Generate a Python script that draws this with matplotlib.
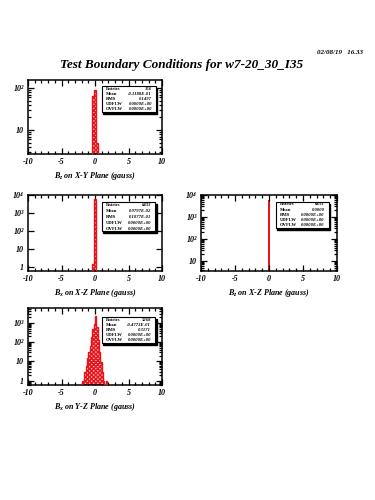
import matplotlib.pyplot as plt
import numpy as np
from matplotlib.patches import Rectangle
from matplotlib.ticker import FixedLocator, MultipleLocator, LogLocator, NullFormatter

RED = "#e8141b"
SERIF = ["Liberation Serif", "DejaVu Serif"]

title = "Test Boundary Conditions for w7-20_30_I35"
stamp = "02/08/19   16.33"

# histogram contents (bin edges in gauss, counts per bin)
xy_edges = [-0.4, -0.2, 0.0, 0.2, 0.4]
xy_counts = [65, 90, 90, 5]

xz_bx_edges = [-0.4, -0.2, 0.0, 0.2, 0.4]
xz_bx_counts = [1.5, 6000, 6000, 0]

xz_bz_edges = [-0.1, 0.1]
xz_bz_counts = [6000]

yz_edges = [-2.0, -1.8, -1.6, -1.4, -1.2, -1.0, -0.8, -0.6, -0.4, -0.2, 0.0,
            0.2, 0.4, 0.6, 0.8, 1.0, 1.2, 1.4, 1.6, 1.8, 2.0]
yz_counts = [1, 1, 3, 6, 15, 30, 60, 180, 500, 900, 2400,
             600, 130, 30, 9, 3, 1, 0, 1, 0]

stat_names = ["Entries", "Mean", "RMS", "UDFLW", "OVFLW"]
stats_xy = ["156", "-0.1188E-01", "0.1497", "0.0000E+00", "0.0000E+00"]
stats_xz_bx = ["6433", "0.9797E-02", "0.1077E-01", "0.0000E+00", "0.0000E+00"]
stats_xz_bz = ["6433", "0.0000", "0.0000E+00", "0.0000E+00", "0.0000E+00"]
stats_yz = ["5268", "-0.4773E-01", "0.3171", "0.0000E+00", "0.0000E+00"]

xlabels = ["B$_z$ on X-Y Plane (gauss)", "B$_x$ on X-Z Plane (gauss)",
           "B$_z$ on X-Z Plane (gauss)", "B$_x$ on Y-Z Plane (gauss)"]

W, H = 375, 500
fig = plt.figure(figsize=(3.75, 5), dpi=100)
plt.rcParams['mathtext.fontset'] = 'custom'
plt.rcParams['mathtext.rm'] = 'Liberation Serif:bold:italic'
plt.rcParams['mathtext.it'] = 'Liberation Serif:bold:italic'
plt.rcParams['hatch.linewidth'] = 1.1


def px_axes(x0, y0, x1, y1):
    return fig.add_axes([x0 / W, 1 - y1 / H, (x1 - x0) / W, (y1 - y0) / H])


def sup(n):
    s = {0: "1", 1: "10", 2: "10²", 3: "10³", 4: "10⁴"}
    return s[n]


def style(ax, ylim, decades, xlabel):
    ax.set_xlim(-10, 10)
    ax.set_yscale("log")
    ax.set_ylim(*ylim)
    ax.xaxis.set_major_locator(FixedLocator([-10, -5, 0, 5, 10]))
    ax.xaxis.set_minor_locator(MultipleLocator(1))
    ax.set_xticklabels(["-10", "-5", "0", "5", "10"])
    ax.yaxis.set_major_locator(FixedLocator([10.0 ** d for d in decades]))
    ax.set_yticklabels([sup(d) for d in decades])
    ax.yaxis.set_minor_locator(LogLocator(base=10, subs=np.arange(2, 10)))
    ax.yaxis.set_minor_formatter(NullFormatter())
    ax.tick_params(which="both", direction="in", top=True, right=True,
                   width=0.9, labelsize=5.8, pad=3)
    ax.tick_params(which="major", length=4.5)
    ax.tick_params(which="minor", length=2.5)
    for lab in ax.get_xticklabels() + ax.get_yticklabels():
        lab.set_family(SERIF)
        lab.set_weight("bold")
        lab.set_style("italic")
    for sp in ax.spines.values():
        sp.set_linewidth(1.1)
    ax.set_xlabel(xlabel, fontsize=5.8, family=SERIF, weight="bold",
                  style="italic", labelpad=3)


def stats_box(ax, x0, y0, x1, y1, values):
    ax.add_patch(Rectangle((x0 + 0.01, y0 - 0.025), x1 - x0, y1 - y0,
                           transform=ax.transAxes, facecolor="black",
                           edgecolor="black", zorder=4, clip_on=False))
    ax.add_patch(Rectangle((x0, y0), x1 - x0, y1 - y0, transform=ax.transAxes,
                           facecolor="white", edgecolor="black", lw=0.8,
                           zorder=5, clip_on=False))
    n = len(stat_names)
    step = (y1 - y0) / n
    for i, (name, val) in enumerate(zip(stat_names, values)):
        yy = y1 - (i + 0.5) * step
        ax.text(x0 + 0.03, yy, name, transform=ax.transAxes, fontsize=3.3,
                family=SERIF, weight="bold", va="center", ha="left", zorder=6)
        ax.text(x1 - 0.03, yy, val, transform=ax.transAxes, fontsize=3.3,
                family=SERIF, weight="bold", style="italic", va="center",
                ha="right", zorder=6)


def hatched(ax, edges, counts):
    ax.stairs(counts, edges, fill=True, facecolor="#f7d0d0", edgecolor=RED,
              hatch="xxxxxxxx", lw=0, baseline=1e-3, zorder=2)
    ax.stairs(counts, edges, fill=False, edgecolor=RED, lw=1.0,
              baseline=1e-3, zorder=3)


fig.text(363 / W, 1 - 52 / H, stamp, ha="right", va="center", fontsize=5,
         family=SERIF, weight="bold", style="italic")
fig.text(182 / W, 1 - 65 / H, title, ha="center", va="center", fontsize=9.5,
         family=SERIF, weight="bold", style="italic")

ax1 = px_axes(28, 80, 162, 154)
hatched(ax1, xy_edges, xy_counts)
style(ax1, (2.7, 155), [1, 2], xlabels[0])
stats_box(ax1, 0.55, 0.57, 0.955, 0.92, stats_xy)

ax2 = px_axes(28, 195, 162, 271)
hatched(ax2, xz_bx_edges, xz_bx_counts)
style(ax2, (0.6, 1e4), [0, 1, 2, 3, 4], xlabels[1])
stats_box(ax2, 0.55, 0.52, 0.95, 0.91, stats_xz_bx)

ax3 = px_axes(201, 195, 337, 271)
ax3.stairs(xz_bz_counts, xz_bz_edges, fill=True, color=RED, baseline=1e-3)
style(ax3, (3.5, 1e4), [1, 2, 3, 4], xlabels[2])
stats_box(ax3, 0.55, 0.57, 0.94, 0.91, stats_xz_bz)

ax4 = px_axes(28, 308, 162, 385)
hatched(ax4, yz_edges, yz_counts)
style(ax4, (0.6, 5900), [0, 1, 2, 3], xlabels[3])
stats_box(ax4, 0.55, 0.545, 0.95, 0.88, stats_yz)

fig.savefig("out.png", dpi=100)
